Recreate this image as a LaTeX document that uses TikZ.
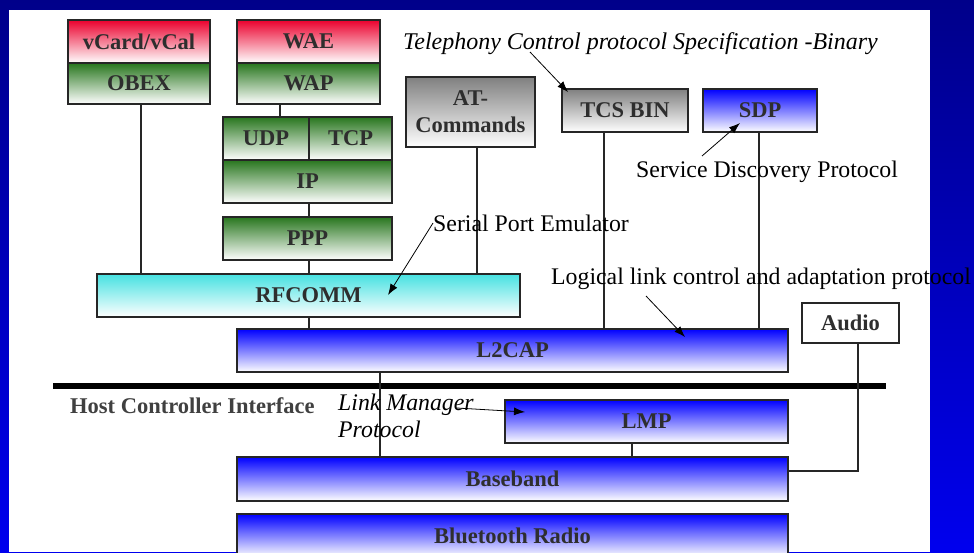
\documentclass[tikz,border=0pt]{standalone}
\usepackage{fontspec}
\setmainfont{Liberation Serif}
\usetikzlibrary{arrows.meta}
\tikzset{>={Latex[length=11pt,width=8pt]}}
\definecolor{bgtop}{RGB}{0,0,138}
\definecolor{bgbot}{RGB}{0,0,238}
\definecolor{redtop}{RGB}{235,0,45}
\definecolor{greentop}{RGB}{40,118,30}
\definecolor{cyantop}{RGB}{70,225,225}
\definecolor{graytop}{RGB}{128,128,128}
\definecolor{bluetop}{RGB}{0,0,255}
\newcommand{\layerfont}{\fontsize{22.5}{27}\selectfont\bfseries}
\newcommand{\notefont}{\fontsize{23.8}{27}\selectfont}

\begin{document}
\begin{tikzpicture}[x=1pt,y=-1pt,
  layer/.style={draw=black!85, line width=1.3pt, inner sep=0pt, text=black!82,
    font=\layerfont, align=center, minimum height=43pt},
  redlayer/.style={layer, top color=redtop, middle color=redtop!28, bottom color=white},
  greenlayer/.style={layer, top color=greentop, middle color=greentop!28, bottom color=white},
  cyanlayer/.style={layer, top color=cyantop, middle color=cyantop!35, bottom color=white},
  graylayer/.style={layer, top color=graytop, middle color=graytop!35, bottom color=white},
  bluelayer/.style={layer, top color=bluetop, middle color=bluetop!30, bottom color=white},
  note/.style={anchor=base west, inner sep=0pt, font=\notefont},
  link/.style={draw=black!85, line width=1.3pt},
  pointer/.style={->, line width=0.8pt}]
	\useasboundingbox (0,0) rectangle (974,552);
	\clip (0,0) rectangle (974,552);
	\shade[top color=bgtop, bottom color=bgbot] (0,0) rectangle (974,552);
	\fill[white] (9,10) rectangle (930,552);

	% upper stack
	\node[redlayer, minimum width=142pt] (vcard) at (139,41.5) {vCard/vCal};
	\node[greenlayer, minimum width=142pt, minimum height=41pt] (obex) at (139,83.5) {OBEX};
	\node[redlayer, minimum width=143pt] (wae) at (308.5,41.5) {WAE};
	\node[greenlayer, minimum width=143pt, minimum height=41pt] (wap) at (308.5,83.5) {WAP};
	\node[greenlayer, minimum width=86pt] (udp) at (266,138.5) {UDP};
	\node[greenlayer, minimum width=83pt] (tcp) at (350.5,138.5) {TCP};
	\node[greenlayer, minimum width=169pt] (ip) at (307.5,181.5) {IP};
	\node[greenlayer, minimum width=169pt] (ppp) at (307.5,238.5) {PPP};
	\node[graylayer, minimum width=129pt, minimum height=70pt] (at) at (470.5,112) {AT-\\Commands};
	\node[graylayer, minimum width=126pt] (tcs) at (625,110.5) {TCS BIN};
	\node[bluelayer, minimum width=114pt] (sdp) at (760,110.5) {SDP};
	\node[cyanlayer, minimum width=423pt] (rfcomm) at (308.5,295.5) {RFCOMM};
	\node[bluelayer, minimum width=551pt] (l2cap) at (512.5,350.5) {L2CAP};
	\node[layer, fill=white, minimum width=97pt, minimum height=40pt] (audio) at (850.5,323) {Audio};

	% host controller interface
	\draw[line width=6pt] (53,386) -- (886,386);
	\node[anchor=base west, inner sep=0pt, font=\layerfont, text=black!75] (hci) at (70,413) {Host Controller Interface};

	% lower stack
	\node[bluelayer, minimum width=283pt] (lmp) at (646.5,421.5) {LMP};
	\node[bluelayer, minimum width=551pt, minimum height=44pt] (baseband) at (512.5,479) {Baseband};
	\node[bluelayer, minimum width=551pt] (radio) at (512.5,535.5) {Bluetooth Radio};

	% connectors
	\draw[link] (obex.south -| 141,0) -- (rfcomm.north -| 141,0);
	\draw[link] (wap.south -| 280,0) -- (udp.north -| 280,0);
	\draw[link] (ip.south -| 309,0) -- (ppp.north -| 309,0);
	\draw[link] (ppp.south -| 309,0) -- (rfcomm.north -| 309,0);
	\draw[link] (at.south -| 477,0) -- (rfcomm.north -| 477,0);
	\draw[link] (rfcomm.south -| 309,0) -- (l2cap.north -| 309,0);
	\draw[link] (tcs.south -| 604,0) -- (l2cap.north -| 604,0);
	\draw[link] (sdp.south -| 759,0) -- (l2cap.north -| 759,0);
	\draw[link] (l2cap.south -| 380,0) -- (baseband.north -| 380,0);
	\draw[link] (lmp.south -| 632,0) -- (baseband.north -| 632,0);
	\draw[link] (audio.south -| 858,0) |- (baseband.east |- 0,471);

	% annotations
	\node[note, font=\fontsize{24}{27}\selectfont\itshape] (tcsnote) at (403,49) {Telephony Control protocol Specification -Binary};
	\node[note] (sdpnote) at (636,177) {Service Discovery Protocol};
	\node[note] (rfcommnote) at (433,231) {Serial Port Emulator};
	\node[note] (l2capnote) at (551,284) {Logical link control and adaptation protocol};
	\node[note, font=\notefont\itshape, align=left] (lmpnote) at (338,437) {Link Manager\\Protocol};
	\coordinate (tcsfrom) at (530,52);
	\coordinate (tcstip) at (568,92);
	\coordinate (sdpfrom) at (702,156);
	\coordinate (sdptip) at (740,123);
	\coordinate (rfcommfrom) at (433,223);
	\coordinate (rfcommtip) at (388,295);
	\coordinate (l2capfrom) at (646,296);
	\coordinate (l2captip) at (685,337);
	\coordinate (lmpfrom) at (457,408);
	\coordinate (lmptip) at (525,412);
	\draw[pointer] (tcsfrom) -- (tcstip);
	\draw[pointer] (sdpfrom) -- (sdptip);
	\draw[pointer] (rfcommfrom) -- (rfcommtip);
	\draw[pointer] (l2capfrom) -- (l2captip);
	\draw[pointer] (lmpfrom) -- (lmptip);
\end{tikzpicture}
\end{document}
